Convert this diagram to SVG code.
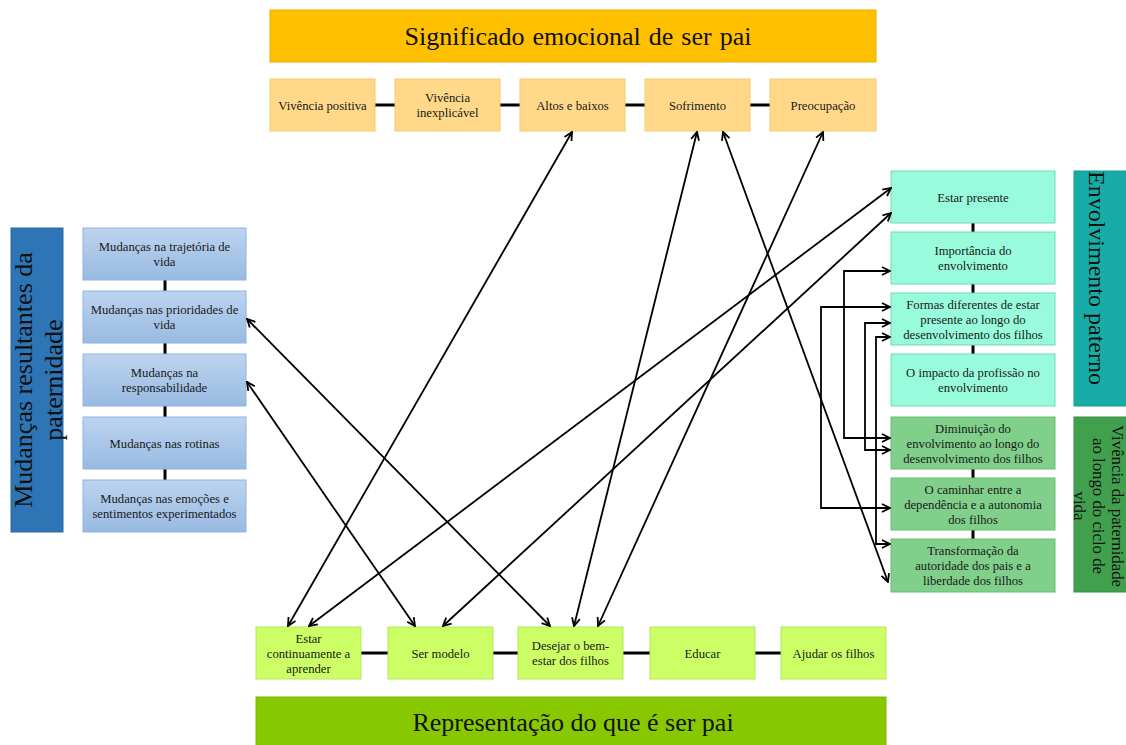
<svg xmlns="http://www.w3.org/2000/svg" width="1126" height="745" viewBox="0 0 1126 745">
<style>
text{font-family:"Liberation Serif","Times New Roman",serif;fill:#1a1a1a}
.t{font-size:12.7px;text-anchor:middle}
.big{font-size:26px;text-anchor:middle;fill:#111}
.top{fill:#FFD88A;stroke:#F7C96A;stroke-width:1}
.left{fill:url(#gb);stroke:#8FB4E3;stroke-width:1}
.teal{fill:#98FBDB;stroke:#6ED9BE;stroke-width:1}
.grn{fill:#80CF8A;stroke:#66BD74;stroke-width:1}
.bot{fill:#CCFF66;stroke:#B6E85A;stroke-width:1}
.link{stroke:#000;stroke-width:3;fill:none}
.arr{stroke:#000;stroke-width:1.8;fill:none;marker-start:url(#ah);marker-end:url(#ah)}
</style>
<defs>
<linearGradient id="gb" x1="0" y1="0" x2="0" y2="1">
<stop offset="0" stop-color="#BDD4EE"/>
<stop offset="1" stop-color="#98BAE2"/>
</linearGradient>
<marker id="ah" viewBox="0 0 10 10" refX="9" refY="5" markerWidth="10" markerHeight="10" markerUnits="userSpaceOnUse" orient="auto-start-reverse">
<path d="M1,1 L9,5 L1,9" fill="none" stroke="#000" stroke-width="1.8"/>
</marker>
</defs>
<rect width="1126" height="745" fill="#fff"/>

<!-- structural links -->
<g id="links">
<line class="link" x1="375" y1="105" x2="395" y2="105"/>
<line class="link" x1="500" y1="105" x2="520" y2="105"/>
<line class="link" x1="625" y1="105" x2="645" y2="105"/>
<line class="link" x1="750" y1="105" x2="770" y2="105"/>
<line class="link" x1="165" y1="280" x2="165" y2="291"/>
<line class="link" x1="165" y1="343" x2="165" y2="354"/>
<line class="link" x1="165" y1="406" x2="165" y2="417"/>
<line class="link" x1="165" y1="469" x2="165" y2="480"/>
<line class="link" x1="973" y1="223" x2="973" y2="232"/>
<line class="link" x1="973" y1="284" x2="973" y2="293"/>
<line class="link" x1="973" y1="345" x2="973" y2="354"/>
<line class="link" x1="973" y1="469" x2="973" y2="478"/>
<line class="link" x1="973" y1="530" x2="973" y2="539"/>
<line class="link" x1="361" y1="653" x2="388" y2="653"/>
<line class="link" x1="493" y1="653" x2="518" y2="653"/>
<line class="link" x1="623" y1="653" x2="650" y2="653"/>
<line class="link" x1="755" y1="653" x2="781" y2="653"/>
</g>

<!-- titles -->
<g id="title-top">
<rect x="270" y="10" width="606" height="52" fill="#FFC000" stroke="#E8B000"/>
<text class="big" x="578" y="45" word-spacing="1.5">Significado emocional de ser pai</text>
</g>
<g id="title-bottom">
<rect x="256" y="697" width="630" height="50" fill="#88C800" stroke="#7CB800"/>
<text class="big" x="573" y="731">Representação do que é ser pai</text>
</g>
<g id="label-left">
<rect x="11" y="228" width="52" height="304" fill="#2E75B6" stroke="#2A6AA6"/>
<text class="big" transform="translate(0 380) rotate(-90)" x="0" y="32">Mudanças resultantes da</text>
<text class="big" transform="translate(0 380) rotate(-90)" x="0" y="62">paternidade</text>
</g>
<g id="label-env">
<rect x="1074" y="171" width="54" height="235" fill="#17ADA6" stroke="#149C96"/>
<text transform="translate(1089 278) rotate(90)" x="0" y="0" style="font-size:24px;text-anchor:middle;fill:#111">Envolvimento paterno</text>
</g>
<g id="label-viv">
<rect x="1074" y="417" width="54" height="175" fill="#41A04E" stroke="#389045"/>
<text transform="translate(0 506) rotate(90)" style="font-size:16.8px;text-anchor:middle;fill:#111" x="0" y="-1112">Vivência da paternidade</text>
<text transform="translate(0 506) rotate(90)" style="font-size:16.8px;text-anchor:middle;fill:#111" x="0" y="-1093">ao longo do ciclo de</text>
<text transform="translate(0 506) rotate(90)" style="font-size:16.8px;text-anchor:middle;fill:#111" x="0" y="-1074">vida</text>
</g>

<!-- top row -->
<g id="n-vivencia-positiva"><rect class="top" x="270" y="79" width="105" height="52"/><text class="t" x="322.5" y="109.5">Vivência positiva</text></g>
<g id="n-vivencia-inexplicavel"><rect class="top" x="395" y="79" width="105" height="52"/><text class="t" x="447.5" y="102">Vivência</text><text class="t" x="447.5" y="117">inexplicável</text></g>
<g id="n-altos"><rect class="top" x="520" y="79" width="105" height="52"/><text class="t" x="572.5" y="109.5">Altos e baixos</text></g>
<g id="n-sofrimento"><rect class="top" x="645" y="79" width="105" height="52"/><text class="t" x="697.5" y="109.5">Sofrimento</text></g>
<g id="n-preocupacao"><rect class="top" x="770" y="79" width="106" height="52"/><text class="t" x="823" y="109.5">Preocupação</text></g>

<!-- left column -->
<g id="n-trajetoria"><rect class="left" x="83" y="228" width="163" height="52"/><text class="t" x="164.5" y="251">Mudanças na trajetória de</text><text class="t" x="164.5" y="266">vida</text></g>
<g id="n-prioridades"><rect class="left" x="83" y="291" width="163" height="52"/><text class="t" x="164.5" y="314">Mudanças nas prioridades de</text><text class="t" x="164.5" y="329">vida</text></g>
<g id="n-responsabilidade"><rect class="left" x="83" y="354" width="163" height="52"/><text class="t" x="164.5" y="377">Mudanças na</text><text class="t" x="164.5" y="392">responsabilidade</text></g>
<g id="n-rotinas"><rect class="left" x="83" y="417" width="163" height="52"/><text class="t" x="164.5" y="447.5">Mudanças nas rotinas</text></g>
<g id="n-emocoes"><rect class="left" x="83" y="480" width="163" height="52"/><text class="t" x="164.5" y="503">Mudanças nas emoções e</text><text class="t" x="164.5" y="518">sentimentos experimentados</text></g>

<!-- right column -->
<g id="n-estar-presente"><rect class="teal" x="891" y="171" width="164" height="52"/><text class="t" x="973" y="201.5">Estar presente</text></g>
<g id="n-importancia"><rect class="teal" x="891" y="232" width="164" height="52"/><text class="t" x="973" y="255">Importância do</text><text class="t" x="973" y="270">envolvimento</text></g>
<g id="n-formas"><rect class="teal" x="891" y="293" width="164" height="52"/><text class="t" x="973" y="308.5">Formas diferentes de estar</text><text class="t" x="973" y="323.5">presente ao longo do</text><text class="t" x="973" y="338.5">desenvolvimento dos filhos</text></g>
<g id="n-impacto"><rect class="teal" x="891" y="354" width="164" height="52"/><text class="t" x="973" y="377">O impacto da profissão no</text><text class="t" x="973" y="392">envolvimento</text></g>
<g id="n-diminuicao"><rect class="grn" x="891" y="417" width="164" height="52"/><text class="t" x="973" y="432.5">Diminuição do</text><text class="t" x="973" y="447.5">envolvimento ao longo do</text><text class="t" x="973" y="462.5">desenvolvimento dos filhos</text></g>
<g id="n-caminhar"><rect class="grn" x="891" y="478" width="164" height="52"/><text class="t" x="973" y="493.5">O caminhar entre a</text><text class="t" x="973" y="508.5">dependência e a autonomia</text><text class="t" x="973" y="523.5">dos filhos</text></g>
<g id="n-transformacao"><rect class="grn" x="891" y="539" width="164" height="53"/><text class="t" x="973" y="555">Transformação da</text><text class="t" x="973" y="570">autoridade dos pais e a</text><text class="t" x="973" y="585">liberdade dos filhos</text></g>

<!-- bottom row -->
<g id="n-aprender"><rect class="bot" x="256" y="627" width="105" height="52"/><text class="t" x="308.5" y="642.5">Estar</text><text class="t" x="308.5" y="657.5">continuamente a</text><text class="t" x="308.5" y="672.5">aprender</text></g>
<g id="n-modelo"><rect class="bot" x="388" y="627" width="105" height="52"/><text class="t" x="440.5" y="657.5">Ser modelo</text></g>
<g id="n-desejar"><rect class="bot" x="518" y="627" width="105" height="52"/><text class="t" x="570.5" y="650">Desejar o bem-</text><text class="t" x="570.5" y="665">estar dos filhos</text></g>
<g id="n-educar"><rect class="bot" x="650" y="627" width="105" height="52"/><text class="t" x="702.5" y="657.5">Educar</text></g>
<g id="n-ajudar"><rect class="bot" x="781" y="627" width="105" height="52"/><text class="t" x="833.5" y="657.5">Ajudar os filhos</text></g>

<!-- connectors -->
<g id="connectors">
<path class="arr" d="M572,132 L288,626"/>
<path class="arr" d="M247,319 L550,626"/>
<path class="arr" d="M247,382 L415,626"/>
<path class="arr" d="M891,188 L309,626"/>
<path class="arr" d="M891,213 L443,626"/>
<path class="arr" d="M697,132 L574,626"/>
<path class="arr" d="M723,132 L888,582"/>
<path class="arr" d="M823,132 L598,626"/>
<path class="arr" d="M890,271 H844 V438 H890"/>
<path class="arr" d="M890,307 H821 V508 H890"/>
<path class="arr" d="M890,323 H865 V450 H890"/>
<path class="arr" d="M890,337 H876 V544 H890"/>
</g>
</svg>
